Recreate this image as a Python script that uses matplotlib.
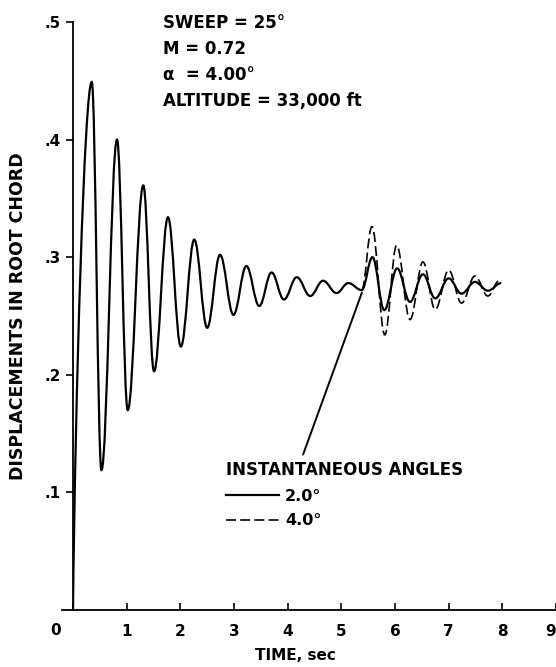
import matplotlib
matplotlib.use('Agg')
import matplotlib.pyplot as plt
from matplotlib.path import Path
from matplotlib.patches import PathPatch
from matplotlib.lines import Line2D

# Extremos (tiempo en s, desplazamiento)
t_solid = [0.0, 0.35, 0.53, 0.82, 1.02, 1.31, 1.51, 1.77, 2.01, 2.26, 2.50,
           2.74, 2.99, 3.23, 3.47, 3.70, 3.93, 4.17, 4.42, 4.66, 4.91, 5.13,
           5.38, 5.58, 5.80, 6.04, 6.28, 6.52, 6.75, 7.00, 7.24, 7.49, 7.73, 7.98]
y_solid = [0.0, 0.449, 0.119, 0.400, 0.170, 0.361, 0.203, 0.334, 0.224, 0.315, 0.240,
           0.302, 0.251, 0.2925, 0.2585, 0.287, 0.264, 0.283, 0.267, 0.280, 0.2695, 0.278,
           0.272, 0.300, 0.255, 0.2905, 0.262, 0.2855, 0.265, 0.282, 0.269, 0.279, 0.2715, 0.278]

t_dash = [5.38, 5.57, 5.81, 6.03, 6.28, 6.52, 6.75, 7.00, 7.24, 7.49, 7.73, 7.95]
y_dash = [0.272, 0.326, 0.234, 0.310, 0.247, 0.296, 0.2555, 0.289, 0.261, 0.284, 0.267, 0.2805]

x_ticks = [0, 1, 2, 3, 4, 5, 6, 7, 8, 9]
y_ticks = [0.1, 0.2, 0.3, 0.4, 0.5]
y_labels = ['.1', '.2', '.3', '.4', '.5']

info_lines = ['SWEEP = 25°', 'M = 0.72', 'α  = 4.00°', 'ALTITUDE = 33,000 ft']

DASH = (0, (6, 2.5))


def smooth_path(ts, ys, first_steep=False):
    # curva Bezier con tangente horizontal en cada extremo
    verts = [(ts[0], ys[0])]
    codes = [Path.MOVETO]
    for i in range(1, len(ts)):
        t0, y0, t1, y1 = ts[i - 1], ys[i - 1], ts[i], ys[i]
        d = (t1 - t0) * 0.38
        if i == 1 and first_steep:
            c1 = (t0 + d * 0.3, y0 + (y1 - y0) * 0.4)
        else:
            c1 = (t0 + d, y0)
        verts += [c1, (t1 - d, y1), (t1, y1)]
        codes += [Path.CURVE4] * 3
    return Path(verts, codes)


plt.rcParams['font.family'] = ['DejaVu Sans']
plt.rcParams['font.weight'] = 'bold'

fig = plt.figure(figsize=(5.56, 6.67), dpi=100)
ax = fig.add_axes([73 / 556, 1 - 610 / 667, 483 / 556, 588 / 667])
ax.set_xlim(0, 9)
ax.set_ylim(0, 0.5)

# Curvas
ax.add_patch(PathPatch(smooth_path(t_dash, y_dash), fill=False, lw=1.2,
                       ls=DASH, ec='black', zorder=2))
ax.add_patch(PathPatch(smooth_path(t_solid, y_solid, first_steep=True), fill=False,
                       lw=1.6, ec='black', zorder=3))

# Ejes
for s in ['top', 'right']:
    ax.spines[s].set_visible(False)
ax.spines['left'].set_bounds(0, 0.5)
ax.spines['bottom'].set_bounds(-0.2, 9)
ax.spines['left'].set_linewidth(1.3)
ax.spines['bottom'].set_linewidth(1.3)

ax.set_xticks(x_ticks)
ax.set_xticklabels([''] + [str(v) for v in x_ticks[1:]])
ax.tick_params(axis='x', direction='in', length=5, width=1.2, labelsize=11, pad=10)
ax.get_xticklabels()[-1].set_horizontalalignment('right')
ax.set_yticks(y_ticks)
ax.set_yticklabels(y_labels)
ax.tick_params(axis='y', direction='out', length=5, width=1.2, labelsize=11, pad=4)
ax.text(-0.33, -0.0178, '0', fontsize=11, fontweight='bold', ha='center', va='center')

fig.text(295 / 556, 1 - 655 / 667, 'TIME, sec', fontsize=11, fontweight='bold',
         ha='center', va='center')
ax.set_ylabel('DISPLACEMENTS IN ROOT CHORD', fontsize=12.5, fontweight='bold', labelpad=12)

# Condiciones
for i, txt in enumerate(info_lines):
    fig.text(163 / 556, 1 - (28 + 26 * i) / 667, txt, fontsize=12, fontweight='bold',
             ha='left', va='baseline')

# Leyenda
handles = [Line2D([], [], color='black', lw=1.6),
           Line2D([], [], color='black', lw=1.2, ls=DASH)]
leg = ax.legend(handles, ['2.0°', '4.0°'], title='INSTANTANEOUS ANGLES',
                loc='upper left', bbox_to_anchor=(226 / 556, 1 - 461 / 667),
                bbox_transform=fig.transFigure, frameon=False, handlelength=3.3,
                handletextpad=0.4, labelspacing=0.6, borderpad=0, borderaxespad=0,
                alignment='left', prop={'size': 11.5, 'weight': 'bold'},
                title_fontproperties={'size': 12, 'weight': 'bold'})

ax.annotate('', xy=(5.40, 0.272), xytext=(4.27, 0.130),
            arrowprops=dict(arrowstyle='-', lw=1.4, color='black'))

fig.savefig('out.png', dpi=100)
